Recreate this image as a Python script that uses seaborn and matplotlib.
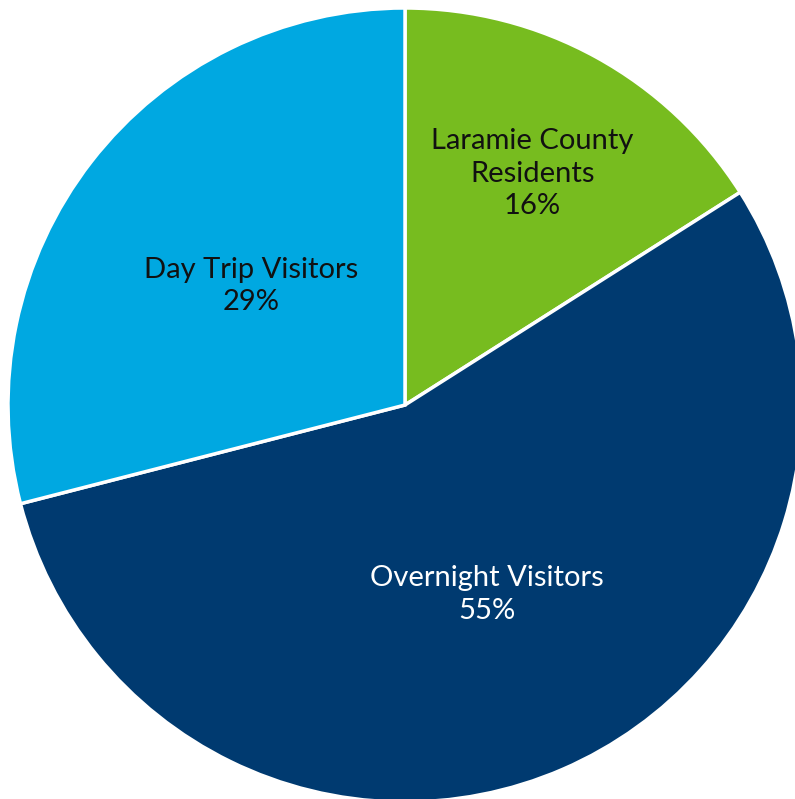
import numpy as np
import matplotlib
matplotlib.use("Agg")
import matplotlib.pyplot as plt
import seaborn as sns

sns.set_theme(style="white")
plt.rcParams["font.family"] = ["Lato", "DejaVu Sans"]

categories = ["Laramie County\nResidents", "Overnight Visitors", "Day Trip Visitors"]
shares = [16, 55, 29]
colors = ["#77BC1F", "#003A70", "#00A8E1"]
text_colors = ["#111111", "#FFFFFF", "#111111"]
label_radius = [0.665, 0.52, 0.49]

fig = plt.figure(figsize=(7.95, 7.99), dpi=100)
ax = fig.add_axes([0, 0, 1, 1])

wedges, _ = ax.pie(
    shares,
    colors=colors,
    startangle=90,
    counterclock=False,
    radius=1.0,
    wedgeprops=dict(edgecolor="white", linewidth=2.5),
)

for w, cat, val, tc, r in zip(wedges, categories, shares, text_colors, label_radius):
    mid = np.deg2rad((w.theta1 + w.theta2) / 2)
    ax.text(r * np.cos(mid), r * np.sin(mid), f"{cat}\n{val}%",
            ha="center", va="center", fontsize=21, color=tc,
            linespacing=1.3)

R = 397.0
ax.set_xlim(-405 / R, (795 - 405) / R)
ax.set_ylim(-394 / R, 405 / R)
ax.set_aspect("auto")
ax.axis("off")

fig.savefig("out.png", dpi=100, facecolor="white")
